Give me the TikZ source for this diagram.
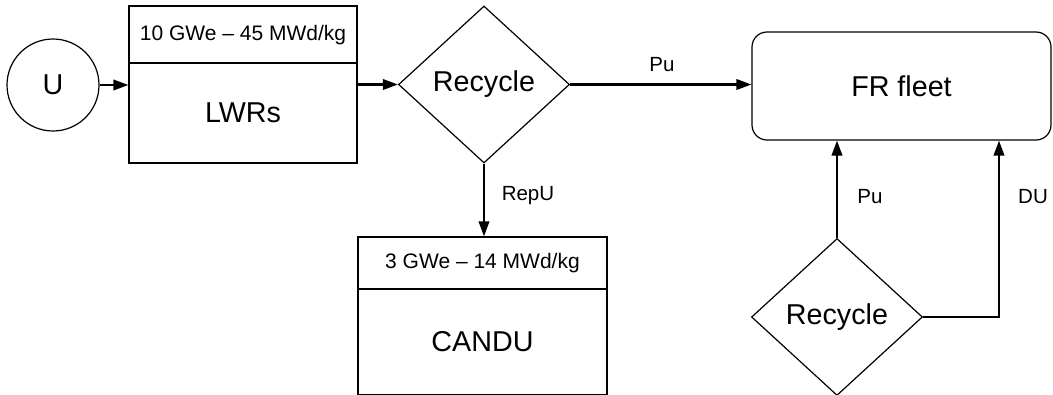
\documentclass[tikz,border=0pt]{standalone}
\usepackage{fontspec}
\setmainfont{Liberation Sans}
\usetikzlibrary{shapes.geometric,arrows.meta,calc}
\tikzset{
  big/.style={font=\fontsize{28.7}{34}\selectfont},
  head/.style={font=\fontsize{21}{25}\selectfont},
  lab/.style={font=\fontsize{20.5}{24}\selectfont},
  shp/.style={draw=black, line width=1.2pt, fill=white, inner sep=0pt},
  boxshape/.style={shp, rectangle},
  decision/.style={shp, diamond, minimum width=171pt, minimum height=157pt, big},
  flow/.style={line width=2.1pt, -{Triangle[length=15pt,width=10.5pt]}},
  thinline/.style={line width=1.4pt},
}
\begin{document}
\begin{tikzpicture}[x=1pt,y=-1pt]
\useasboundingbox[fill=white] (0,0) rectangle (1053,394);
% U source
\node[shp, circle, minimum size=92pt, big] (u) at (53,85) {U};
% LWRs
\node[boxshape, minimum width=228pt, minimum height=157pt] (lwr) at (243,84.5) {};
\draw[line width=1.2pt] (lwr.west |- 0,63) -- (lwr.east |- 0,63);
\node[head] (lwrhead) at (243,35) {10 GWe -- 45 MWd/kg};
\node[big] (lwrname) at (243,113) {LWRs};
% first recycle
\node[decision] (rec1) at (484,84.5) {Recycle};
% FR fleet
\node[boxshape, rounded corners=15pt, minimum width=299pt, minimum height=108pt, big] (fr) at (901.5,86) {FR fleet};
% CANDU
\node[boxshape, minimum width=249pt, minimum height=158pt] (candu) at (482.5,316) {};
\draw[line width=1.2pt] (candu.west |- 0,289) -- (candu.east |- 0,289);
\node[head] (canduhead) at (482.5,263) {3 GWe -- 14 MWd/kg};
\node[big] (canduname) at (482.5,342) {CANDU};
% second recycle
\node[decision] (rec2) at (837,317) {Recycle};
\coordinate (duc) at (999,317);
% connectors
\draw[flow] (u.east) -- (u.east -| lwr.west);
\draw[flow] (lwr.east) -- (rec1.west);
\draw[flow] (rec1.east) -- (rec1.east -| fr.west);
\draw[flow] (rec1.south) -- (rec1.south |- candu.north);
\draw[flow] (rec2.north) -- (rec2.north |- fr.south);
\draw[thinline] (rec2.east) -- ([xshift=1pt]duc);
\draw[flow] ([yshift=0.7pt]duc) -- (duc |- fr.south);
% labels
\node[lab] (lpu1) at (662,65) {Pu};
\node[lab] (lrepu) at (528,196) {RepU};
\node[lab] (lpu2) at (870,197) {Pu};
\node[lab] (ldu) at (1033,197) {DU};
\end{tikzpicture}
\end{document}
